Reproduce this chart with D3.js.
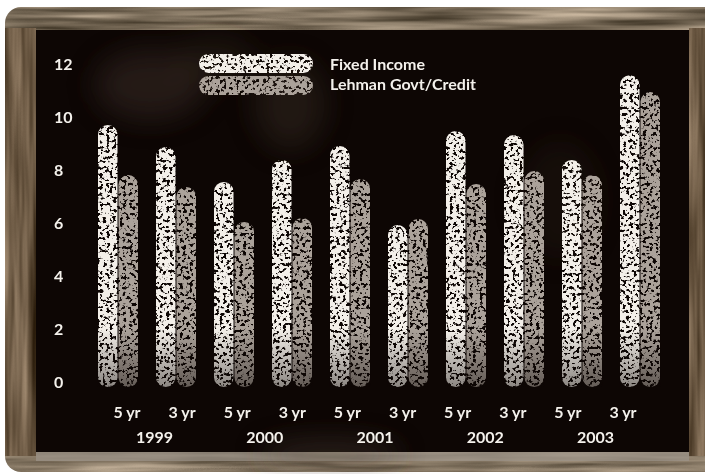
<!DOCTYPE html>
<html>
<head>
<meta charset="utf-8">
<script src="https://cdn.jsdelivr.net/npm/d3@7"></script>
<style>
  html, body { margin: 0; padding: 0; background: #ffffff; }
  svg { display: block; }
  text { font-family: Lato, "Open Sans", sans-serif; font-weight: 700; fill: #f4f1ec; }
</style>
</head>
<body>
<svg id="chart" width="705" height="474"></svg>
<script>
// Annualised returns, fund vs. benchmark, by year and horizon
const years = ["1999", "2000", "2001", "2002", "2003"];
const horizons = ["5 yr", "3 yr"];
const categories = ["1999-5", "1999-3", "2000-5", "2000-3", "2001-5", "2001-3", "2002-5", "2002-3", "2003-5", "2003-3"];
const fixedIncome = [9.7, 8.87, 7.55, 8.38, 8.91, 5.92, 9.47, 9.32, 8.38, 11.58];
const lehmanGovtCredit = [7.81, 7.36, 6.04, 6.19, 7.66, 6.15, 7.47, 7.96, 7.81, 10.94];
const seriesNames = ["Fixed Income", "Lehman Govt/Credit"];
const yTicks = [0, 2, 4, 6, 8, 10, 12];

const svg = d3.select("#chart");
const defs = svg.append("defs");

// ---- texture filters ----
function woodFilter(id, freq, seed, k) {
  const f = defs.append("filter").attr("id", id)
    .attr("color-interpolation-filters", "sRGB")
    .attr("x", 0).attr("y", 0).attr("width", 1).attr("height", 1);
  f.append("feTurbulence").attr("type", "fractalNoise")
    .attr("baseFrequency", freq).attr("numOctaves", 3).attr("seed", seed).attr("result", "n");
  f.append("feColorMatrix").attr("in", "n").attr("type", "matrix")
    .attr("values", `${k[0]} 0 0 0 ${k[1]}  ${k[2]} 0 0 0 ${k[3]}  ${k[4]} 0 0 0 ${k[5]}  0 0 0 0 1`)
    .attr("result", "c");
  f.append("feComposite").attr("in", "c").attr("in2", "SourceGraphic").attr("operator", "in");
}
woodFilter("woodH", "0.006 0.11", 4, [0.8, 0.1, 0.75, 0.07, 0.7, 0.02]);
woodFilter("woodV", "0.10 0.005", 9, [0.7, 0.08, 0.65, 0.03, 0.6, -0.03]);

const chalk = defs.append("filter").attr("id", "chalk")
  .attr("color-interpolation-filters", "sRGB")
  .attr("x", "-5%").attr("y", "-5%").attr("width", "110%").attr("height", "110%");
chalk.append("feTurbulence").attr("type", "fractalNoise")
  .attr("baseFrequency", 0.3).attr("numOctaves", 2).attr("seed", 11).attr("result", "n");
chalk.append("feColorMatrix").attr("in", "n").attr("type", "matrix")
  .attr("values", "0 0 0 0 0  0 0 0 0 0  0 0 0 0 0  -12 0 0 0 7.5").attr("result", "m");
chalk.append("feComposite").attr("in", "SourceGraphic").attr("in2", "m").attr("operator", "in");

const haze = defs.append("filter").attr("id", "haze")
  .attr("x", "-50%").attr("y", "-50%").attr("width", "200%").attr("height", "200%");
haze.append("feGaussianBlur").attr("stdDeviation", 14);

const fade = defs.append("linearGradient").attr("id", "fade")
  .attr("x1", 0).attr("y1", 0).attr("x2", 0).attr("y2", 1);
fade.append("stop").attr("offset", "0%").attr("stop-color", "#0d0604").attr("stop-opacity", 0);
fade.append("stop").attr("offset", "100%").attr("stop-color", "#0d0604").attr("stop-opacity", 0.45);

// ---- wooden frame ----
const outer = defs.append("clipPath").attr("id", "outer");
outer.append("rect").attr("x", 5).attr("y", 7).attr("width", 716).attr("height", 465).attr("rx", 16);

const frame = svg.append("g").attr("clip-path", "url(#outer)");
frame.append("rect").attr("x", 0).attr("y", 0).attr("width", 720).attr("height", 474)
  .attr("fill", "#777").attr("filter", "url(#woodH)");
frame.append("rect").attr("x", 5).attr("y", 28).attr("width", 31).attr("height", 428)
  .attr("fill", "#777").attr("filter", "url(#woodV)");
frame.append("rect").attr("x", 689).attr("y", 28).attr("width", 20).attr("height", 428)
  .attr("fill", "#777").attr("filter", "url(#woodV)");
// light ledge under the board
frame.append("rect").attr("x", 36).attr("y", 452).attr("width", 653).attr("height", 9)
  .attr("fill", "#9c948a").attr("opacity", 0.7);

// ---- blackboard ----
svg.append("rect").attr("x", 36).attr("y", 30).attr("width", 653).attr("height", 422)
  .attr("fill", "#0d0604");
const smudges = svg.append("g").attr("filter", "url(#haze)");
[[150, 85, 55, 35, 0.3], [290, 105, 35, 45, 0.25], [215, 60, 40, 22, 0.2], [330, 455, 70, 14, 0.4], [560, 200, 40, 60, 0.1]]
  .forEach(([cx, cy, rx, ry, o]) => smudges.append("ellipse")
    .attr("cx", cx).attr("cy", cy).attr("rx", rx).attr("ry", ry)
    .attr("fill", "#5a4a3e").attr("opacity", o));

// ---- scales ----
const y = d3.scaleLinear().domain([0, 12]).range([382, 64]);
const x0 = d3.scaleBand().domain(categories).range([89, 669]).paddingInner(0.293).paddingOuter(0.1465);
const x1 = d3.scaleBand().domain(seriesNames).range([0, x0.bandwidth()]);
const xLabel = d3.scalePoint().domain(categories).range([127, 623]);

// ---- y axis labels ----
svg.append("g").selectAll("text").data(yTicks).join("text")
  .attr("x", 54).attr("y", d => y(d)).attr("dy", "0.36em")
  .attr("font-size", 16).text(d => d);

// ---- bars ----
const rows = categories.map((c, i) => ({ cat: c, vals: [fixedIncome[i], lehmanGovtCredit[i]] }));
const colors = ["#f3efe9", "#aba29a"];
const bars = svg.append("g").attr("filter", "url(#chalk)");
const groups = bars.selectAll("g").data(rows).join("g")
  .attr("transform", d => `translate(${x0(d.cat)},0)`);
groups.selectAll("rect").data(d => d.vals.map((v, k) => ({ v, k }))).join("rect")
  .attr("x", d => x1(seriesNames[d.k]) + 0.5)
  .attr("width", x1.bandwidth() - 1)
  .attr("y", d => y(d.v))
  .attr("height", d => y(0) - y(d.v) + 5)
  .attr("rx", (x1.bandwidth() - 1) / 2)
  .attr("fill", d => colors[d.k]);
// darker chalk towards the foot of each bar
groups.append("rect")
  .attr("x", 0).attr("width", x0.bandwidth())
  .attr("y", y(2)).attr("height", y(0) - y(2) + 5)
  .attr("fill", "url(#fade)");

// ---- legend ----
const legend = svg.append("g");
legend.append("g").attr("filter", "url(#chalk)").selectAll("rect").data(seriesNames).join("rect")
  .attr("x", 199).attr("y", (d, i) => 54 + i * 22)
  .attr("width", 114).attr("height", 19).attr("rx", 9.5)
  .attr("fill", (d, i) => colors[i]);
legend.selectAll("text").data(seriesNames).join("text")
  .attr("x", 330).attr("y", (d, i) => 64 + i * 20).attr("dy", "0.35em")
  .attr("font-size", 16).text(d => d);

// ---- x axis labels ----
svg.append("g").selectAll("text").data(categories).join("text")
  .attr("x", d => xLabel(d)).attr("y", 418)
  .attr("text-anchor", "middle").attr("font-size", 16)
  .text((d, i) => horizons[i % 2]);
svg.append("g").selectAll("text").data(years).join("text")
  .attr("x", (d, i) => (xLabel(categories[2 * i]) + xLabel(categories[2 * i + 1])) / 2)
  .attr("y", 443).attr("text-anchor", "middle").attr("font-size", 16)
  .text(d => d);
</script>
</body>
</html>
